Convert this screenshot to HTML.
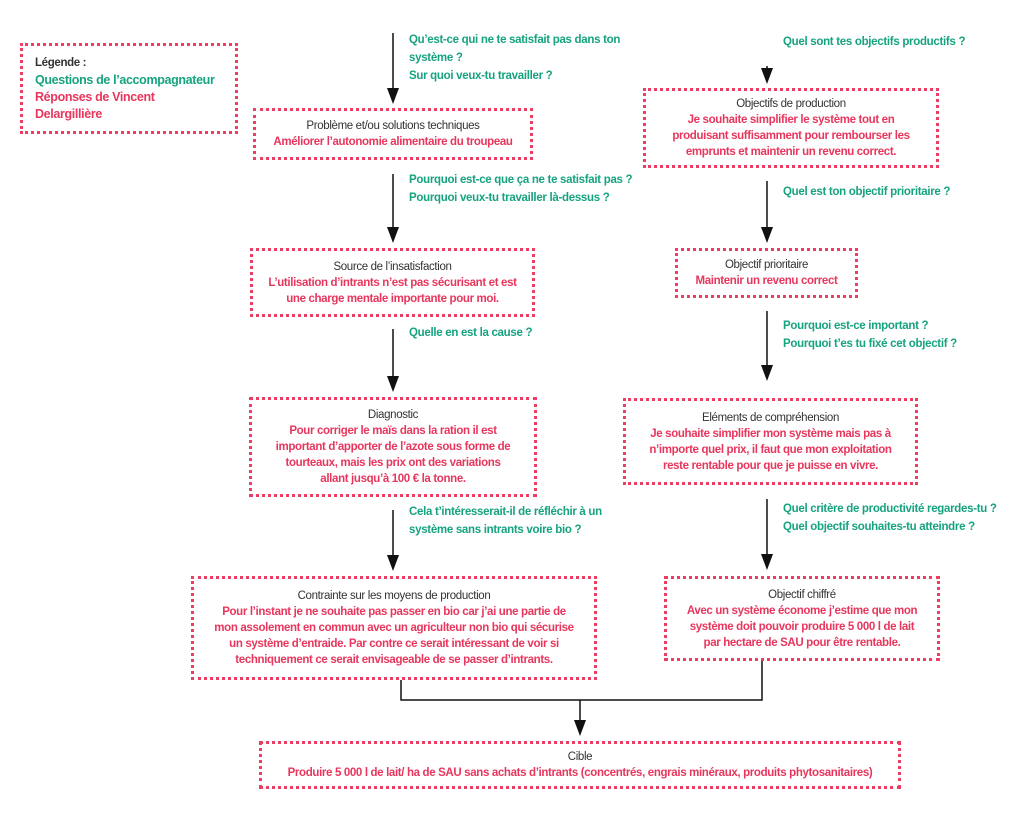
<!DOCTYPE html>
<html><head><meta charset="utf-8"><style>
body{margin:0;width:1024px;height:816px;background:#fff;position:relative;font-family:"Liberation Sans",sans-serif;overflow:hidden}
.b{position:absolute;box-sizing:border-box;border:3px dotted #ee3d63;text-align:center;font-size:11.5px;line-height:16px;letter-spacing:-0.35px;display:flex;flex-direction:column;justify-content:center;padding:0 4px}
.t{color:#333}
.r{color:#e8365d;font-weight:bold}
.g{position:absolute;color:#16a380;font-weight:bold;font-size:11.5px;line-height:18px;letter-spacing:-0.3px}
svg{position:absolute;left:0;top:0}
</style></head><body>
<svg width="1024" height="816">
<g stroke="#111" stroke-width="1.5" fill="none">
<line x1="393" y1="33" x2="393" y2="92"/>
<line x1="393" y1="174" x2="393" y2="230"/>
<line x1="393" y1="329" x2="393" y2="380"/>
<line x1="393" y1="510" x2="393" y2="558"/>
<line x1="767" y1="66" x2="767" y2="72"/>
<line x1="767" y1="181" x2="767" y2="230"/>
<line x1="767" y1="311" x2="767" y2="368"/>
<line x1="767" y1="499" x2="767" y2="556"/>
<polyline points="401,680 401,700 762,700 762,661"/>
<line x1="580" y1="700" x2="580" y2="722"/>
</g>
<g fill="#111">
<path d="M387,88 L399,88 L393,104 Z"/>
<path d="M387,227 L399,227 L393,243 Z"/>
<path d="M387,376 L399,376 L393,392 Z"/>
<path d="M387,555 L399,555 L393,571 Z"/>
<path d="M761,68 L773,68 L767,84 Z"/>
<path d="M761,227 L773,227 L767,243 Z"/>
<path d="M761,365 L773,365 L767,381 Z"/>
<path d="M761,554 L773,554 L767,570 Z"/>
<path d="M574,720 L586,720 L580,736 Z"/>
</g></svg>

<div class="b" style="left:20px;top:43px;width:218px;height:91px;text-align:left;padding-left:12px;font-size:12.5px;line-height:17px">
<div class="t" style="font-weight:bold;font-size:11.5px">Légende :</div>
<div style="color:#16a380;font-weight:bold">Questions de l’accompagnateur</div>
<div class="r">Réponses de Vincent<br>Delargillière</div></div>

<div class="g" style="left:409px;top:31px">Qu’est-ce qui ne te satisfait pas dans ton<br>système ?<br>Sur quoi veux-tu travailler ?</div>
<div class="b" style="left:253px;top:108px;width:280px;height:52px"><div class="t">Problème et/ou solutions techniques</div><div class="r">Améliorer l’autonomie alimentaire du troupeau</div></div>
<div class="g" style="left:409px;top:171px">Pourquoi est-ce que ça ne te satisfait pas ?<br>Pourquoi veux-tu travailler là-dessus ?</div>
<div class="b" style="left:250px;top:248px;width:285px;height:69px"><div class="t">Source de l’insatisfaction</div><div class="r">L’utilisation d’intrants n’est pas sécurisant et est<br>une charge mentale importante pour moi.</div></div>
<div class="g" style="left:409px;top:324px">Quelle en est la cause ?</div>
<div class="b" style="left:249px;top:397px;width:288px;height:100px"><div class="t">Diagnostic</div><div class="r">Pour corriger le maïs dans la ration il est<br>important d’apporter de l’azote sous forme de<br>tourteaux, mais les prix ont des variations<br>allant jusqu’à 100 € la tonne.</div></div>
<div class="g" style="left:409px;top:503px">Cela t’intéresserait-il de réfléchir à un<br>système sans intrants voire bio ?</div>
<div class="b" style="left:191px;top:576px;width:406px;height:104px"><div class="t">Contrainte sur les moyens de production</div><div class="r">Pour l’instant je ne souhaite pas passer en bio car j’ai une partie de<br>mon assolement en commun avec un agriculteur non bio qui sécurise<br>un système d’entraide. Par contre ce serait intéressant de voir si<br>techniquement ce serait envisageable de se passer d’intrants.</div></div>

<div class="g" style="left:783px;top:33px">Quel sont tes objectifs productifs ?</div>
<div class="b" style="left:643px;top:88px;width:296px;height:80px"><div class="t">Objectifs de production</div><div class="r">Je souhaite simplifier le système tout en<br>produisant suffisamment pour rembourser les<br>emprunts et maintenir un revenu correct.</div></div>
<div class="g" style="left:783px;top:183px">Quel est ton objectif prioritaire ?</div>
<div class="b" style="left:675px;top:248px;width:183px;height:50px"><div class="t">Objectif prioritaire</div><div class="r">Maintenir un revenu correct</div></div>
<div class="g" style="left:783px;top:317px">Pourquoi est-ce important ?<br>Pourquoi t’es tu fixé cet objectif ?</div>
<div class="b" style="left:623px;top:398px;width:295px;height:87px"><div class="t">Eléments de compréhension</div><div class="r">Je souhaite simplifier mon système mais pas à<br>n’importe quel prix, il faut que mon exploitation<br>reste rentable pour que je puisse en vivre.</div></div>
<div class="g" style="left:783px;top:500px">Quel critère de productivité regardes-tu ?<br>Quel objectif souhaites-tu atteindre ?</div>
<div class="b" style="left:664px;top:576px;width:276px;height:85px"><div class="t">Objectif chiffré</div><div class="r">Avec un système économe j’estime que mon<br>système doit pouvoir produire 5 000 l de lait<br>par hectare de SAU pour être rentable.</div></div>

<div class="b" style="left:259px;top:741px;width:642px;height:48px"><div class="t">Cible</div><div class="r">Produire 5 000 l de lait/ ha de SAU sans achats d’intrants (concentrés, engrais minéraux, produits phytosanitaires)</div></div>
</body></html>
